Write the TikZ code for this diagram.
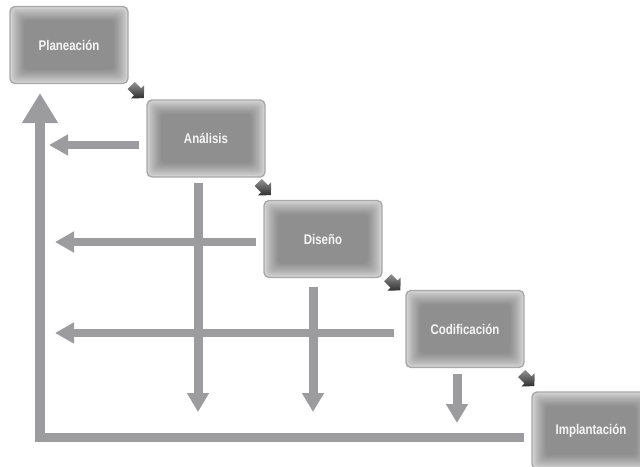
\documentclass[tikz,border=0pt]{standalone}
\usepackage{fontspec}
\setmainfont{Liberation Sans}[FakeStretch=0.82]
\usetikzlibrary{arrows.meta,calc}
\definecolor{flowgray}{RGB}{156,156,158}
\begin{document}
\begin{tikzpicture}[x=1pt,y=-1pt,
  phase/.style={draw=black!34, line width=1.4pt, fill=black!18,
    rounded corners=5pt, minimum width=118pt, minimum height=77pt,
    inner sep=0pt, text=white!96!black,
    font=\fontsize{14}{16}\selectfont\bfseries,
    path picture={
      \foreach \i in {1,...,13}{
        \pgfmathsetmacro\pc{18+26*(\i/13)^0.8}
        \fill[black!\pc, rounded corners=4pt]
          ($(path picture bounding box.north west)+(\i+1,\i+1)$) rectangle
          ($(path picture bounding box.south east)+(-\i-1,-\i-1)$);
      }}},
  flow/.style={draw=flowgray, line width=9pt,
    -{Triangle[width=21pt,length=19pt]}},
  back/.style={draw=flowgray, line width=8pt,
    -{Triangle[width=20pt,length=19pt]}},
  loop/.style={draw=flowgray, line width=9.5pt, line join=miter,
    -{Triangle[width=34pt,length=30pt]}},
  handoff/.pic={
    \shade[top color=black!42, bottom color=black!82, middle color=black!62,
      rotate=-45]
      (-9,-5) -- (0,-5) -- (0,-9.5) -- (9,0) -- (0,9.5) -- (0,5)
      -- (-9,5) -- cycle;
  }]
\clip (0,0) rectangle (640,466);

% phases of the waterfall
\node[phase] (pla) at (69,45)    {Planeación};
\node[phase] (ana) at (206,138.5) {Análisis};
\node[phase] (dis) at (323,239)  {Diseño};
\node[phase] (cod) at (465,329)  {Codificación};
\node[phase] (imp) at (591,430.5) {Implantación};

% free ends of the feedback and downward arrows
\coordinate (top) at (40,93);
\coordinate (r1) at (49,145);
\coordinate (r2) at (55,242);
\coordinate (r3) at (55,333);
\coordinate (d1) at (198,412);
\coordinate (d2) at (313,412);
\coordinate (d3) at (457,423);

% main return path back to planning
\draw[loop] ($(imp.west)+(-7,7)$) -| (top);

% feedback from each phase
\draw[back] ($(ana.west)+(-7,6.5)$) -- (r1);
\draw[back] ($(dis.west)+(-7,3)$) -- (r2);
\draw[back] ($(cod.west)+(-11,4)$) -- (r3);

% downward arrows
\draw[flow] ($(ana.south)+(-8,5)$) -- (d1);
\draw[flow] ($(dis.south)+(-10,9)$) -- (d2);
\draw[flow] ($(cod.south)+(-8,6)$) -- (d3);

% hand-off arrows between consecutive phases
\pic at ($(pla.south east)!0.5!(ana.north west)$) {handoff};
\pic at ($(ana.south east)!0.5!(dis.north west)$) {handoff};
\pic at ($(dis.south east)!0.5!(cod.north west)$) {handoff};
\pic at ($(cod.south east)!0.5!(imp.north west)$) {handoff};
\end{tikzpicture}
\end{document}
